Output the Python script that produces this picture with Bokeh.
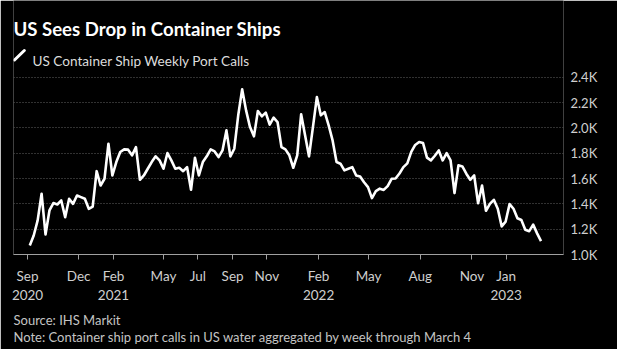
import pandas as pd
from bokeh.plotting import figure
from bokeh.models import Range1d, FixedTicker, Label, Arrow, Title
from bokeh.embed import file_html
from bokeh.resources import INLINE

# ---------------- data ----------------
title_text = "US Sees Drop in Container Ships"
series_name = "US Container Ship Weekly Port Calls"
source_text = "Source: IHS Markit"
note_text = "Note: Container ship port calls in US water aggregated by week through March 4"

last_week = "2023-03-04"
port_calls = [
    1071, 1150, 1269, 1480, 1158, 1348, 1406, 1395, 1427, 1295,
    1440, 1400, 1466, 1453, 1440, 1361, 1379, 1658, 1545, 1598,
    1875, 1624, 1730, 1809, 1830, 1828, 1783, 1848, 1590, 1624,
    1677, 1730, 1775, 1743, 1677, 1801, 1743, 1677, 1685, 1658,
    1690, 1511, 1764, 1624, 1730, 1775, 1830, 1814, 1769, 1822,
    1980, 1775, 1835, 2099, 2304, 2138, 2006, 1933, 2133, 2091,
    2120, 2025, 2080, 2046, 1848, 1830, 1783, 1685, 1783, 2107,
    1941, 1775, 2006, 2243, 2099, 2125, 2020, 1901, 1730, 1717,
    1664, 1677, 1690, 1624, 1616, 1571, 1532,
    1445, 1500, 1520, 1510, 1540, 1598, 1600, 1640, 1690, 1720,
    1810, 1865, 1888, 1880, 1765, 1743, 1780, 1822, 1743, 1801,
    1743, 1485, 1704, 1695, 1638, 1590, 1624, 1405, 1545, 1345,
    1400, 1432, 1361, 1222, 1260, 1398, 1361, 1286, 1272, 1195,
    1184, 1236, 1167, 1105,
]
week_dates = pd.date_range(end=last_week, periods=len(port_calls), freq="7D")

x_tick_dates = ["2020-09-01", "2020-12-01", "2021-02-01", "2021-05-01", "2021-07-01",
                "2021-09-01", "2021-11-01", "2022-02-01", "2022-05-01", "2022-08-01",
                "2022-11-01", "2023-01-01"]
x_tick_labels = ["Sep\n2020", "Dec", "Feb\n2021", "May", "Jul", "Sep", "Nov",
                 "Feb\n2022", "May", "Aug", "Nov", "Jan\n2023"]
y_ticks = [1000, 1200, 1400, 1600, 1800, 2000, 2200, 2400]
y_tick_labels = ["1.0K", "1.2K", "1.4K", "1.6K", "1.8K", "2.0K", "2.2K", "2.4K"]

# ---------------- layout / style ----------------
FONT = "Lato"
W, H = 617, 349
FL, FR, FB = 13, 563, 254        # frame left/right/bottom (canvas px); frame top = 0
Y_TOP_PX = 76.7                  # canvas y of the top tick (2.4K)
y_lo, y_hi = y_ticks[0], y_ticks[-1]
y_frame_top = y_lo + FB * (y_hi - y_lo) / (FB - Y_TOP_PX)   # frame extends up to canvas top

p = figure(
    width=W, height=H, output_backend="svg", toolbar_location=None, title=None,
    x_axis_type="datetime", y_axis_location="right",
    x_range=Range1d(pd.Timestamp("2020-08-07"), pd.Timestamp("2023-04-13")),
    y_range=Range1d(y_lo, y_frame_top),
    background_fill_color="black", border_fill_color="black", outline_line_color=None,
    min_border_left=FL, min_border_right=W - FR, min_border_top=0, min_border_bottom=H - FB,
)
p.line(week_dates, port_calls, line_color="white", line_width=2.6, line_join="round")

p.xgrid.grid_line_color = None
p.ygrid.ticker = FixedTicker(ticks=y_ticks)
p.ygrid.grid_line_color = "#626262"
p.ygrid.grid_line_dash = "1 2"

tick_ms = [int(pd.Timestamp(d).value // 10**6) for d in x_tick_dates]
xa = p.xaxis[0]
xa.ticker = FixedTicker(ticks=tick_ms)
xa.major_label_overrides = dict(zip(tick_ms, x_tick_labels))
xa.axis_line_color = "#a0a0a0"
xa.major_tick_line_color = "#a0a0a0"
xa.major_tick_out = 5
xa.major_tick_in = 0
xa.minor_tick_line_color = None
xa.major_label_text_color = "#cfcfcf"
xa.major_label_text_font = FONT
xa.major_label_text_font_size = "13.5px"
xa.major_label_standoff = 8

ya = p.yaxis[0]
ya.ticker = FixedTicker(ticks=y_ticks)
ya.major_label_overrides = dict(zip(y_ticks, y_tick_labels))
ya.axis_line_color = None
ya.major_tick_line_color = None
ya.major_tick_out = 0
ya.major_tick_in = 0
ya.minor_tick_line_color = None
ya.major_label_text_color = "#cfcfcf"
ya.major_label_text_font = FONT
ya.major_label_text_font_size = "13px"
ya.major_label_standoff = 7


# header texts inside the (tall) frame: screen units relative to frame bottom-left, y up
def add_text(txt, cx, cy_base, size, color, style="normal"):
    p.add_layout(Label(x=cx - FL, y=FB - cy_base, x_units="screen", y_units="screen",
                       text=txt, text_font=FONT, text_font_size=size,
                       text_color=color, text_font_style=style,
                       text_baseline="alphabetic", text_align="left"))


add_text(title_text, 13, 28.5, "18.6px", "white", "bold")
add_text(series_name, 32, 60.0, "13.6px", "#dcdcdc")

p.add_layout(Arrow(end=None, x_start=14.0 - FL, y_start=FB - 59.5,
                   x_end=23.8 - FL, y_end=FB - 50.0,
                   start_units="screen", end_units="screen",
                   line_color="white", line_width=3, line_cap="round"))

# footer: one two-line title below the x axis
p.add_layout(Title(text=source_text + "\n" + note_text, align="left", text_font=FONT,
                   text_font_size="13px", text_font_style="normal", text_line_height=1.1,
                   text_color="#c4c4c4", standoff=8), "below")

open("out.html", "w").write(file_html(p, INLINE))
